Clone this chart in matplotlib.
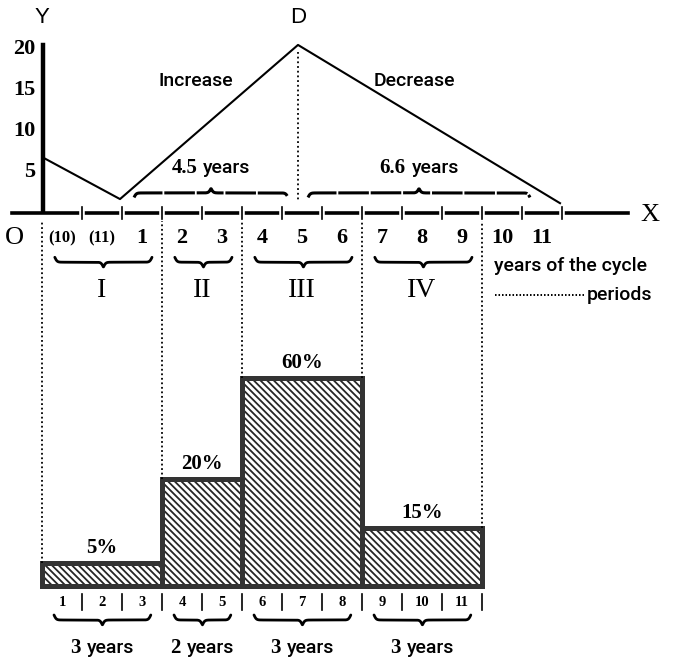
"""
Business cycle diagram: the index line over one cycle (top) and the
share of each period, drawn as hatched blocks (bottom).
"""
import numpy as np
import matplotlib.pyplot as plt

# top diagram: index over the years of the cycle
cycle_x = [0.05, 1.95, 6.4, 12.95]
cycle_y = [6.7, 1.7, 20.5, 1.2]
y_ticks = [5, 10, 15, 20]
cycle_years = ["(10)", "(11)"] + [str(i) for i in range(1, 12)]
phase_names = ["Increase", "Decrease"]
phase_lengths = ["4.5", "6.6"]
phase_from = [2.3, 6.65]
phase_to = [6.15, 12.2]
period_names = ["I", "II", "III", "IV"]
period_edges = [0, 3, 5, 8, 11]

# bottom diagram: share of each period
shares = [5, 20, 60, 15]
bar_heights = [2.3, 10.7, 20.8, 5.8]   # drawn heights
bar_years = [str(i) for i in range(1, 12)]

SERIF = "Liberation Serif"
SANS = "Roboto"

plt.rcParams["hatch.linewidth"] = 1.3


def brace(ax, x0, x1, y, h, beta=35, **kw):
    # curly brace between x0 and x1, cusp at y + h, ends at y - h
    x = np.linspace(x0, x1, 400)
    mid = (x0 + x1) / 2
    xs = np.where(x <= mid, x, x0 + x1 - x)
    f = 1 / (1 + np.exp(-beta * (xs - x0))) + 1 / (1 + np.exp(-beta * (xs - mid)))
    ax.plot(x, y + (f - 1) * 2 * h, color="black", solid_capstyle="round", **kw)


def years_label(ax, x, y, num, size=14):
    # serif bold number followed by sans "years", centred on x
    t1 = ax.text(x, y, num, ha="left", va="baseline", family=SERIF,
                 fontweight="bold", fontsize=size + 1)
    t2 = ax.text(x, y, "years", ha="left", va="baseline", family=SANS,
                 fontweight="medium", fontsize=size)
    pairs.append((ax, x, y, t1, t2))


pairs = []

fig = plt.figure(figsize=(6.74, 6.57), dpi=100)
ax = fig.add_axes([0, 0, 1, 1])
ax.set_xlim(-1.05, 15.8)
ax.set_ylim(-54.15, 25.98)
ax.axis("off")

axb = fig.add_axes([0, 0, 1, 1])
axb.set_xlim(-1.05, 15.8)
axb.set_ylim(-7.1, 58.6)
axb.axis("off")
axb.patch.set_alpha(0)

# axes of the top diagram
ax.plot([-0.75, 14.65], [0, 0], color="black", lw=2.6)
ax.plot([0.02, 0.02], [0.2, 20.5], color="black", lw=3.2)
for k in range(1, 14):
    ax.plot([k, k], [-0.75, 0.75], color="white", lw=4)
    ax.plot([k, k], [-0.75, 0.75], color="black", lw=1.2)
for v in y_ticks:
    ax.text(-0.17, v, str(v), ha="right", va="center", family=SERIF,
            fontweight="bold", fontsize=16)
ax.text(0.0, 23.8, "Y", ha="center", va="center", family="Liberation Sans", fontsize=16)
ax.text(cycle_x[2], 23.8, "D", ha="center", va="center", family="Liberation Sans", fontsize=16)
ax.text(-0.68, -3.05, "O", ha="center", va="center", family=SERIF, fontsize=19)
ax.text(15.2, -0.25, "X", ha="center", va="center", family=SERIF, fontsize=19)

# cycle line
ax.plot(cycle_x, cycle_y, color="black", lw=1.5)
ax.plot([cycle_x[2], cycle_x[2]], [19.6, 1.6], color="black", lw=1.3,
        linestyle=(0, (1, 1.6)))

ax.text(3.85, 16.1, phase_names[0], ha="center", va="center", family=SANS,
        fontweight="medium", fontsize=14)
ax.text(9.3, 16.1, phase_names[1], ha="center", va="center", family=SANS,
        fontweight="medium", fontsize=14)
for lo, hi, num in zip(phase_from, phase_to, phase_lengths):
    brace(ax, lo, hi, 2.45, 0.55, lw=2.2, linestyle=(0, (10, 0.6)))
    years_label(ax, (lo + hi) / 2, 4.9, num)

# years of the cycle
for i, lab in enumerate(cycle_years):
    small = lab.startswith("(")
    ax.text(i + 0.5, -3.05, lab, ha="center", va="center", family=SERIF,
            fontweight="bold", fontsize=12 if small else 16)

# periods
for i, name in enumerate(period_names):
    lo, hi = period_edges[i], period_edges[i + 1]
    brace(ax, lo + 0.32, hi - 0.25, -6.0, -0.6, lw=2.0)
    ax.text((lo + hi) / 2, -9.4, name, ha="center", va="center", family=SERIF,
            fontsize=20)

ax.text(11.3, -6.46, "years of the cycle", ha="left", va="center", family=SANS,
        fontweight="medium", fontsize=14)
ax.plot([11.33, 13.55], [-10.0, -10.0], color="black", lw=1.4,
        linestyle=(0, (0.8, 1.0)))
ax.text(13.62, -10.0, "periods", ha="left", va="center", family=SANS,
        fontweight="medium", fontsize=14)

# bottom diagram: hatched blocks
lefts = period_edges[:-1]
widths = np.diff(period_edges)
axb.bar(lefts, bar_heights, width=widths, align="edge", facecolor="white",
        edgecolor="#262626", hatch="\\\\\\\\\\", lw=0)
axb.bar(lefts, bar_heights, width=widths, align="edge", fill=False,
        edgecolor="#333333", lw=3.6, joinstyle="miter")

# dotted period boundaries running down from the top diagram
tops = []
for j, e in enumerate(period_edges):
    adj = [bar_heights[i] for i in (j - 1, j) if 0 <= i < len(bar_heights)]
    tops.append(max(adj))
axb.vlines(period_edges, tops, 36.5, color="black", lw=1.3,
           linestyles=[(0, (1, 1.5))])

for lo, w, h, s in zip(lefts, widths, bar_heights, shares):
    axb.text(lo + w / 2, h + 0.5, f"{s}%", ha="center", va="bottom", family=SERIF,
             fontweight="bold", fontsize=15)

for i, lab in enumerate(bar_years):
    axb.text(i + 0.5, -1.6, lab, ha="center", va="center", family=SERIF,
             fontweight="bold", fontsize=10.5)
for k in range(1, 12):
    axb.plot([k, k], [-0.8, -2.4], color="black", lw=1.2)

for i in range(len(shares)):
    lo, hi = period_edges[i], period_edges[i + 1]
    brace(axb, lo + 0.3, hi - 0.28, -3.4, -0.5, lw=2.0)
    years_label(axb, (lo + hi) / 2, -6.7, str(hi - lo))

# centre the mixed-font labels
fig.canvas.draw()
r = fig.canvas.get_renderer()
gap = 6
for a, x, y, t1, t2 in pairs:
    w1 = t1.get_window_extent(r).width
    w2 = t2.get_window_extent(r).width
    px, py = a.transData.transform((x, y))
    left = px - (w1 + gap + w2) / 2
    inv = a.transData.inverted()
    t1.set_position(inv.transform((left, py)))
    t2.set_position(inv.transform((left + w1 + gap, py)))

fig.savefig("out.png", dpi=100)
